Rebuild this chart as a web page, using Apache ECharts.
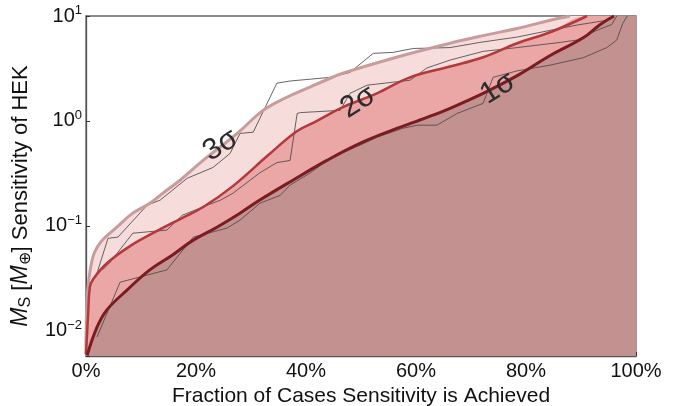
<!DOCTYPE html>
<html><head><meta charset="utf-8">
<script src="https://cdn.jsdelivr.net/npm/echarts@6/dist/echarts.min.js"></script>
<style>html,body{margin:0;padding:0;background:#fff}#c{width:678px;height:406px}</style>
</head><body><div id="c"></div>
<script>
// ---- data (x: % of cases, y: M_S in Earth masses) ----
const xTickStep = 20;
const yMin = 0.00574, yMax = 10;

const sigma3X = [0, 0.2, 1.1, 2.5, 5.6, 8.5, 11.6, 14, 17.1, 21.3, 27.5, 32.2, 36.5, 40.7, 44.4, 46.7, 55.8, 66.2, 72.2, 78.4, 84.4, 88, 100];
const sigma3Y = [0.006, 0.0196, 0.047, 0.068, 0.097, 0.132, 0.164, 0.205, 0.272, 0.42, 0.76, 1.26, 1.68, 2.1, 2.55, 2.85, 3.96, 5.5, 6.5, 7.6, 9.1, 10, 10];

const sigma2X = [0, 0.4, 0.7, 1.3, 3.8, 8, 12.5, 17.1, 21.3, 26.7, 33.1, 38.4, 42, 46.7, 52.9, 58.9, 66.2, 72.2, 78.4, 84.4, 91.1, 100];
const sigma2Y = [0.006, 0.0147, 0.026, 0.031, 0.044, 0.064, 0.087, 0.116, 0.151, 0.239, 0.47, 0.80, 1.0, 1.35, 1.83, 2.6, 3.3, 4.04, 5.5, 7.0, 10, 10];

const sigma1X = [0.2, 2, 3.8, 7.5, 11.6, 15.8, 19.5, 23.8, 28, 31.6, 37.6, 43.8, 49.8, 55.8, 62, 66.2, 72.2, 78.4, 84.4, 90.4, 93.5, 96, 100];
const sigma1Y = [0.0058, 0.0108, 0.0158, 0.0245, 0.038, 0.053, 0.073, 0.097, 0.132, 0.176, 0.272, 0.42, 0.61, 0.82, 1.08, 1.32, 1.83, 2.7, 4.2, 6.2, 8.3, 10, 10];

const data3X = [2, 4, 5.8, 11.1, 13.5, 18.4, 23.1, 26.2, 28, 30.4, 34.7, 37.1, 44.4, 48, 52.2, 55.8, 59.5, 66.2, 71.6, 78.4, 84.4, 89.3, 94.7, 95.8];
const data3Y = [0.0354, 0.076, 0.078, 0.157, 0.176, 0.284, 0.36, 0.49, 0.76, 0.78, 2.29, 2.4, 2.6, 2.9, 4.4, 4.5, 4.9, 5.0, 5.6, 6.3, 7.3, 8.2, 9.1, 10];

const data2X = [3, 4.4, 8.5, 14.7, 17.5, 22, 24.4, 26.7, 31.6, 34.7, 37.1, 38.4, 39, 46.2, 48, 51.1, 58.9, 62, 66.2, 72.2, 78.4, 86.2, 89.3, 92.6, 95.6, 96.5];
const data2Y = [0.038, 0.045, 0.085, 0.091, 0.126, 0.157, 0.175, 0.204, 0.32, 0.40, 0.42, 1.18, 1.2, 1.26, 1.83, 2.19, 2.44, 3.2, 3.8, 4.6, 5.0, 5.6, 5.9, 7.2, 8.3, 10];

const data1X = [2, 6.2, 14.7, 19.5, 25.6, 28, 31.6, 35.3, 37.1, 40.7, 44.4, 51.1, 52.9, 57.6, 60.2, 63.8, 67.5, 72.2, 74, 78.4, 84.4, 90.4, 94.7, 96.5, 97.6, 98.4];
const data1Y = [0.0087, 0.029, 0.038, 0.078, 0.095, 0.113, 0.164, 0.195, 0.244, 0.318, 0.44, 0.63, 0.70, 0.85, 0.91, 0.91, 1.18, 1.47, 2.6, 3.0, 3.4, 4.0, 5.0, 5.9, 8.5, 10];

const sigmaLabels = ['3σ', '2σ', '1σ'];
const sigmaLabelX = [24.5, 49.5, 74.9];
const sigmaLabelY = [0.587, 1.51, 2.05];

// ---- helpers ----
const pair = (xs, ys) => xs.map((x, i) => [x, ys[i]]);
function untilTop(pts) { const i = pts.findIndex(p => p[1] >= yMax); return i < 0 ? pts : pts.slice(0, i + 1); }
const FONT = 'Liberation Sans, Arial, Helvetica, sans-serif';
const sup = n => String(n).replace('-', '\u2212');

const bands = [
  { x: sigma3X, y: sigma3Y, fill: '#f7dcdc', line: '#c99c9c', w: 3 },
  { x: sigma2X, y: sigma2Y, fill: '#eba6a6', line: '#b3393b', w: 2.5 },
  { x: sigma1X, y: sigma1Y, fill: '#c49191', line: '#7b1c20', w: 3 }
];
const SMOOTH = 0.4;
const series = [];
bands.forEach(b => {
  series.push({ type: 'line', data: pair(b.x, b.y), smooth: SMOOTH, symbol: 'none',
    lineStyle: { width: 0 }, areaStyle: { color: b.fill, opacity: 1, origin: 'start' }, silent: true });
});
[[data3X, data3Y], [data2X, data2Y], [data1X, data1Y]].forEach(d => {
  series.push({ type: 'line', data: pair(d[0], d[1]), symbol: 'none',
    lineStyle: { color: '#4a4a4a', width: 1, opacity: 0.85 }, silent: true });
});
bands.forEach(b => {
  series.push({ type: 'line', data: untilTop(pair(b.x, b.y)), smooth: SMOOTH, symbol: 'none',
    lineStyle: { color: b.line, width: b.w }, silent: true });
});
series.push({ type: 'custom', silent: true, z: 10, clip: false,
  data: sigmaLabels.map((n, i) => [sigmaLabelX[i], sigmaLabelY[i], i]),
  renderItem: (params, api) => {
    const p = api.coord([api.value(0), api.value(1)]);
    return { type: 'text', x: p[0], y: p[1], rotation: 32 * Math.PI / 180,
      style: { text: sigmaLabels[api.value(2)], fontSize: 30, fontFamily: FONT, fill: '#2b2b2b',
        align: 'center', verticalAlign: 'middle' } };
  } });

const chart = echarts.init(document.getElementById('c'), null, { renderer: 'canvas' });
chart.setOption({
  animation: false,
  backgroundColor: '#fff',
  grid: { left: 86, right: 42, top: 16, bottom: 50, containLabel: false, outerBoundsMode: 'none',
    show: true, borderColor: '#666', borderWidth: 1.3, backgroundColor: 'transparent' },
  xAxis: {
    type: 'value', min: 0, max: 100, interval: xTickStep,
    name: 'Fraction of Cases Sensitivity is Achieved', nameLocation: 'middle', nameGap: 27,
    nameTextStyle: { fontSize: 21, color: '#111', fontFamily: FONT },
    axisLine: { show: true, lineStyle: { color: '#555', width: 1.3 } },
    axisTick: { show: true, inside: true, length: 4, lineStyle: { color: '#333' } },
    axisLabel: { formatter: '{value}%', fontSize: 20, color: '#111', fontFamily: FONT, margin: 5 },
    splitLine: { show: false }
  },
  yAxis: {
    type: 'log', logBase: 10, min: yMin, max: yMax,
    name: '{it|M}{sub|S} [{it|M}{sub|\u2295}] Sensitivity of HEK', nameLocation: 'middle', nameGap: 50,
    nameTextStyle: { fontSize: 22, color: '#111', fontFamily: FONT, padding: [0, 20, 0, 0],
      rich: { it: { fontSize: 23, fontStyle: 'italic', color: '#111', fontFamily: FONT },
              sub: { fontSize: 16, color: '#111', fontFamily: FONT, padding: [10, 0, 0, 0] } } },
    axisLine: { show: true, lineStyle: { color: '#555', width: 1.3 } },
    axisTick: { show: true, inside: true, length: 4, lineStyle: { color: '#333' } },
    axisLabel: { margin: 4, fontFamily: FONT, color: '#111', fontSize: 20,
      formatter: v => { const e = Math.log10(v); if (Math.abs(e - Math.round(e)) > 1e-6) return ''; return '10{sup|' + sup(Math.round(e)) + '}'; },
      rich: { sup: { fontSize: 13, color: '#111', fontFamily: FONT, padding: [0, 0, 11, 0] } } },
    splitLine: { show: false }
  },
  series
});
</script></body></html>
